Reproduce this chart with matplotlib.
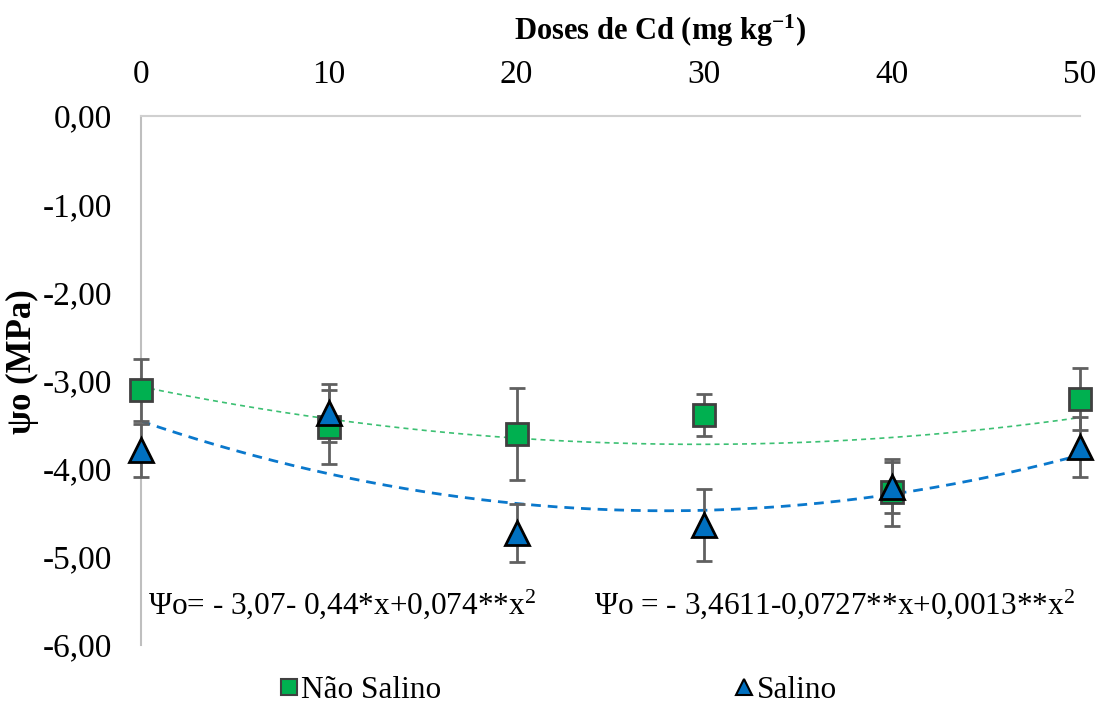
import numpy as np
import matplotlib
matplotlib.use("Agg")
import matplotlib.pyplot as plt
from matplotlib.lines import Line2D

plt.rcParams['font.family'] = ['Liberation Serif', 'DejaVu Serif']
plt.rcParams['mathtext.fontset'] = 'custom'
plt.rcParams['mathtext.rm'] = 'Liberation Serif'
plt.rcParams['mathtext.bf'] = 'Liberation Serif:bold'
plt.rcParams['mathtext.it'] = 'Liberation Serif:italic'

# data
doses = [0, 10, 20, 30, 40, 50]
nao_salino = [-3.11, -3.53, -3.61, -3.39, -4.27, -3.21]
nao_salino_err = [0.35, 0.42, 0.52, 0.24, 0.38, 0.35]
salino = [-3.79, -3.37, -4.73, -4.64, -4.21, -3.75]
salino_err = [0.30, 0.33, 0.33, 0.41, 0.29, 0.34]

# regression coefficients as printed on the chart (c0, c1, c2)
coef_nao_salino = [-3.07, -0.44, 0.074]      # x in tens of mg/kg
coef_salino = [-3.4611, -0.0727, 0.0013]     # x in mg/kg

y_ticks = [0, -1, -2, -3, -4, -5, -6]
x_ticks = [0, 10, 20, 30, 40, 50]

fig = plt.figure(figsize=(11.04, 7.08), dpi=100)
ax = fig.add_axes([0.1277, 1 - 645 / 708, 0.8506, (645 - 116) / 708])

xs = np.linspace(0, 50, 200)
fit_ns = coef_nao_salino[0] + coef_nao_salino[1] * (xs / 10) + coef_nao_salino[2] * (xs / 10) ** 2
fit_s = coef_salino[0] + coef_salino[1] * xs + coef_salino[2] * xs ** 2
ax.plot(xs, fit_ns, color='#3cc073', lw=1.2, ls=(0, (3, 2.5)), zorder=2)
ax.plot(xs, fit_s, color='#0a78cc', lw=2.0, ls=(0, (3.5, 2.5)), zorder=2)

ax.errorbar(doses, nao_salino, yerr=nao_salino_err, fmt='none', ecolor='#606060',
            elinewidth=2, capsize=6, capthick=2, zorder=3, clip_on=False)
ax.errorbar(doses, salino, yerr=salino_err, fmt='none', ecolor='#606060',
            elinewidth=2, capsize=6, capthick=2, zorder=3, clip_on=False)
ax.plot(doses, nao_salino, ls='none', marker='s', ms=16, mfc='#00b050', mec='#404040',
        mew=2, zorder=4, clip_on=False)
ax.plot(doses, salino, ls='none', marker='^', ms=17, mfc='#0070c0', mec='black',
        mew=2, zorder=5, clip_on=False)

ax.set_xlim(0, 50)
ax.set_ylim(-6, 0)
ax.xaxis.tick_top()
ax.set_xticks(x_ticks)
ax.set_xticklabels([str(v) for v in x_ticks], fontsize=24)
ax.set_yticks(y_ticks)
ax.set_yticklabels([f"{v:.2f}".replace('.', ',') for v in y_ticks], fontsize=24)
ax.tick_params(axis='x', length=0, pad=19)
ax.tick_params(axis='y', length=0, pad=21)
for s in ['right', 'bottom']:
    ax.spines[s].set_visible(False)
ax.spines['left'].set_color('#bfbfbf')
ax.spines['top'].set_color('#d0d0d0')
ax.spines['left'].set_linewidth(1.5)
ax.spines['top'].set_linewidth(1.5)

fig.text(660 / 1104, 1 - 31 / 708, r"Doses de Cd (mg kg$^{\mathbf{-1}}$)", ha='center', va='center',
         fontsize=22, fontweight='bold')
fig.text(22 / 1104, 1 - 362 / 708, "ψo (MPa)", rotation=90, ha='center', va='center',
         fontsize=25, fontweight='bold')

fig.text(148 / 1104, 1 - 604 / 708, "Ψo= - 3,07- 0,44*x+0,074**x$^2$", ha='left', va='center', fontsize=22.5)
fig.text(594 / 1104, 1 - 604 / 708, "Ψo = - 3,4611-0,0727**x+0,0013**x$^2$", ha='left', va='center', fontsize=22.5)

handles = [Line2D([], [], ls='none', marker='s', ms=12, mfc='#00b050', mec='#404040', mew=1.5),
           Line2D([], [], ls='none', marker='^', ms=12, mfc='#0070c0', mec='black', mew=1.5)]
fig.legend(handles, ["Não Salino", "Salino"], loc='center', bbox_to_anchor=(558 / 1104, 1 - 690 / 708),
           ncol=2, frameon=False, fontsize=22.5, handlelength=0.6, handletextpad=0.1, columnspacing=9.4)

fig.savefig('out.png', dpi=100)
